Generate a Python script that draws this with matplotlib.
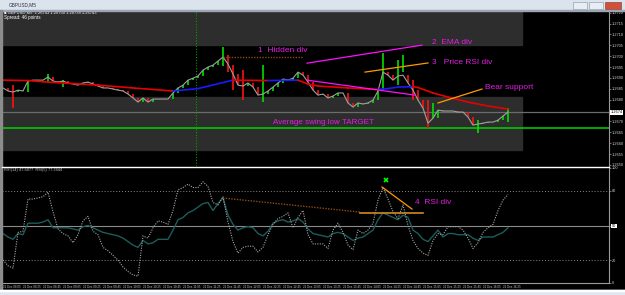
#!/usr/bin/env python3
"""
GBPUSD M5 screenshot remake: price bars with EMA, zones and an RSI panel
"""
import matplotlib
matplotlib.use("Agg")
import matplotlib.pyplot as plt
from matplotlib.patches import Rectangle
from matplotlib.lines import Line2D

# ---- price data (one value per bar) ----
closes = [1.26854, 1.26840, 1.26835, 1.26844, 1.26840, 1.26886, 1.26890, 1.26890, 1.26890, 1.26904,
          1.26886, 1.26881, 1.26886, 1.26877, 1.26872, 1.26867, 1.26877, 1.26881, 1.26872, 1.26863,
          1.26854, 1.26854, 1.26849, 1.26844, 1.26840, 1.26826, 1.26808, 1.26789, 1.26808, 1.26789,
          1.26803, 1.26803, 1.26803, 1.26803, 1.26831, 1.26854, 1.26867, 1.26890, 1.26899, 1.26909,
          1.26936, 1.26950, 1.26959, 1.26978, 1.26996, 1.26964, 1.26918, 1.26867, 1.26863, 1.26877,
          1.26858, 1.26821, 1.26826, 1.26840, 1.26858, 1.26877, 1.26895, 1.26890, 1.26899, 1.26927,
          1.26913, 1.26881, 1.26844, 1.26821, 1.26826, 1.26808, 1.26817, 1.26831, 1.26831, 1.26785,
          1.26766, 1.26785, 1.26780, 1.26785, 1.26798, 1.26840, 1.26927, 1.26913, 1.26890, 1.26909,
          1.26913, 1.26877, 1.26844, 1.26798, 1.26761, 1.26692, 1.26715, 1.26752, 1.26748, 1.26748,
          1.26748, 1.26743, 1.26743, 1.26720, 1.26683, 1.26688, 1.26692, 1.26697, 1.26697, 1.26706,
          1.26725, 1.26743]

# bars with long wicks: bar -> (high, low)
wicks = {2: (1.26867, 1.26762), 5: (1.26890, 1.26835), 9: (1.26918, 1.26881),
         12: (1.26890, 1.26858), 44: (1.27042, 1.26955), 45: (1.27005, 1.26927),
         46: (1.26959, 1.26844), 48: (1.26936, 1.26798), 52: (1.26959, 1.26789),
         76: (1.27015, 1.26844), 79: (1.26982, 1.26867), 80: (1.27005, 1.26927),
         82: (1.26890, 1.26798), 85: (1.26798, 1.26670), 86: (1.26785, 1.26715),
         95: (1.26706, 1.26646), 101: (1.26762, 1.26697)}

# EMA read at a few bars
ema_bars = [0, 5, 9, 19, 26, 34, 39, 46, 53, 59, 61, 63, 69, 75, 77, 79, 82, 83, 86, 89, 93, 97, 101]
ema_vals = [1.26890, 1.26888, 1.26881, 1.26867, 1.26854, 1.26840, 1.26851, 1.26890, 1.26888,
            1.26890, 1.26872, 1.26863, 1.26854, 1.26847, 1.26851, 1.26858, 1.26860, 1.26856,
            1.26831, 1.26812, 1.26789, 1.26771, 1.26757]

# RSI panel
rsi_fast = [20, 15, 13, 44, 45, 73, 73, 74, 75, 79, 62, 47, 43, 41, 35, 42, 54, 58, 45, 42,
            31, 28, 24, 20, 14, 10, 7, 6, 41, 39, 48, 54, 53, 51, 63, 81, 83, 86, 83, 83,
            88, 84, 70, 68, 75, 53, 36, 26, 31, 32, 32, 27, 31, 42, 51, 56, 58, 61, 48, 57,
            63, 42, 34, 34, 34, 30, 46, 52, 44, 33, 29, 46, 43, 46, 52, 72, 83, 73, 62, 56,
            68, 50, 37, 30, 26, 24, 37, 43, 42, 49, 49, 49, 46, 39, 30, 35, 44, 48, 51, 63,
            72, 77]
rsi_slow = [43, 40, 38, 43, 42, 52, 52, 52, 53, 55, 48, 48, 48, 48, 47, 46, 49, 50, 48, 46,
            44, 43, 42, 41, 39, 36, 33, 31, 37, 34, 35, 38, 38, 38, 46, 55, 57, 61, 63, 66,
            69, 70, 63, 69, 74, 59, 51, 46, 48, 49, 48, 43, 41, 45, 52, 54, 55, 53, 54, 56,
            53, 47, 43, 42, 41, 40, 43, 44, 43, 40, 37, 39, 40, 43, 46, 55, 61, 59, 57, 55,
            59, 57, 46, 43, 38, 36, 41, 46, 40, 43, 43, 42, 42, 42, 39, 37, 40, 40, 40, 42,
            44, 48]
rsi_levels = [80, 50, 20]

# zones and levels
supply_zone = (1.27051, 1.27210)
demand_zone = (1.26568, 1.26812)
zone_end_bar = 103.8
current_price = 1.26743
target_price = 1.26670
separator_bar = 38.6

# hand drawn objects: ([bar, bar], [value, value])
hidden_div = ([44, 60], [1.26996, 1.26996])
ema_div_up = ([60.8, 83.8], [1.26968, 1.27051])
ema_div_dn = ([60.8, 82.4], [1.26890, 1.26821])
price_rsi_div = ([72.4, 85.0], [1.26927, 1.26969])
bear_support = ([87.0, 95.8], [1.26785, 1.26849])
rsi_hidden = ([44, 71.4], [73.9, 61.7])
rsi_div = ([75.8, 81.8], [83.5, 64.3])
rsi_flat = ([71.4, 84.0], [60.9, 60.9])
rsi_cross = (76.6, 89.6)

price_ticks = [1.2720, 1.2715, 1.2710, 1.2705, 1.2700, 1.2695, 1.2690, 1.2685,
               1.2680, 1.2670, 1.2665, 1.2660, 1.2655, 1.2650]
rsi_ticks = [100, 80, 50, 20, 0]
time_labels = ["21 Dec 08:05", "21 Dec 08:25", "21 Dec 08:45", "21 Dec 09:05", "21 Dec 09:25",
               "21 Dec 09:45", "21 Dec 10:05", "21 Dec 10:25", "21 Dec 10:45", "21 Dec 11:05",
               "21 Dec 11:25", "21 Dec 11:45", "21 Dec 12:05", "21 Dec 12:25", "21 Dec 12:45",
               "21 Dec 13:05", "21 Dec 13:25", "21 Dec 13:45", "21 Dec 14:05", "21 Dec 14:25",
               "21 Dec 14:45", "21 Dec 15:05", "21 Dec 15:25", "21 Dec 15:45", "21 Dec 16:05",
               "21 Dec 16:25"]

plt.rcParams['font.family'] = ['Liberation Sans', 'DejaVu Sans']

W, H = 625, 295
fig = plt.figure(figsize=(6.25, 2.95), dpi=100, facecolor='black')


def px_axes(x0, y0, x1, y1):
    return fig.add_axes([x0 / W, 1 - y1 / H, (x1 - x0) / W, (y1 - y0) / H])


def px_box(x0, y0, x1, y1, **kw):
    fig.patches.append(Rectangle((x0 / W, 1 - y1 / H), (x1 - x0) / W, (y1 - y0) / H,
                                 transform=fig.transFigure, **kw))


# window frame
px_box(0, 0, W, 10, color='#dbe3ed')
px_box(0, 9.5, W, 10.5, color='#9aa6b4')
px_box(0, 10, 2, 291, color='#8c8c8c')
px_box(0, 290, W, H, color='#dfe8f2')
px_box(0, 290, W, 291, color='#ffffff')
px_box(573, 2, 587, 8.5, facecolor='#e8edf3', edgecolor='#8090a0', lw=0.4)
px_box(589, 2, 603, 8.5, facecolor='#e8edf3', edgecolor='#8090a0', lw=0.4)
px_box(605, 2, 621, 8.5, facecolor='#d0503c', edgecolor='#803020', lw=0.4)
fig.text(9 / W, 1 - 5 / H, "GBPUSD,M5", fontsize=3.4, color='#303040', va='center')

xmin, xmax = -0.2, 121.2
x = list(range(len(closes)))

# ---------------- main chart ----------------
ax = px_axes(2, 11, 609, 166)
ax.set_facecolor('black')
ax.set_xlim(xmin, xmax)
ax.set_ylim(1.26495, 1.27208)

ax.add_patch(Rectangle((xmin, supply_zone[0]), zone_end_bar - xmin,
                       supply_zone[1] - supply_zone[0], color='#2d2d2d', zorder=0))
ax.add_patch(Rectangle((xmin, demand_zone[0]), zone_end_bar - xmin,
                       demand_zone[1] - demand_zone[0], color='#2d2d2d', zorder=0))
ax.axhline(current_price, color='#6c6c6c', lw=0.9, zorder=1)
ax.axhline(target_price, color='#00c800', lw=1.2, zorder=1)
ax.axvline(separator_bar, color='#00a000', ls=(0, (1, 1.5)), lw=0.8, zorder=1)

for i, c in enumerate(closes):
    o = closes[i - 1] if i > 0 else c
    hi, lo = wicks.get(i, (max(o, c), min(o, c)))
    col = '#00e000' if c >= o else '#ff1010'
    ax.vlines(i, lo, hi, colors=col, lw=1.2, zorder=2)
ax.plot(x, closes, color='#a0a0a0', lw=0.8, zorder=3)

for k in range(len(ema_bars) - 1):
    col = '#1a1aff' if ema_vals[k + 1] > ema_vals[k] else '#e80000'
    ax.plot(ema_bars[k:k + 2], ema_vals[k:k + 2], color=col, lw=1.2, zorder=3,
            solid_capstyle='round')

ax.plot(*hidden_div, color='#8b4a10', ls=(0, (1, 1)), lw=1.0, zorder=4)
ax.plot(*ema_div_up, color='#ff10ff', lw=0.9, zorder=4)
ax.plot(*ema_div_dn, color='#ff10ff', lw=0.9, zorder=4)
ax.plot(*price_rsi_div, color='#ff9a00', lw=0.9, zorder=4)
ax.plot(*bear_support, color='#ff9a00', lw=0.9, zorder=4)

mag = '#e21ee2'
ax.text(51, 1.27024, "1  Hidden div", color=mag, fontsize=6, va='center')
ax.text(85.8, 1.27061, "2  EMA div", color=mag, fontsize=6, va='center')
ax.text(85.8, 1.26969, "3   Price RSI div", color=mag, fontsize=6, va='center')
ax.text(96.4, 1.26854, "Bear support", color=mag, fontsize=6, va='center')
ax.text(54, 1.26694, "Average swing low TARGET", color=mag, fontsize=5.8, va='center')

ax.text(0.003, 0.988, "\u25a0 GBPUSD,M5  1.26743 1.26750 1.26738 1.26743", transform=ax.transAxes,
        fontsize=3.0, color='white', va='center')
ax.text(0.003, 0.958, "Spread: 46 points", transform=ax.transAxes,
        fontsize=3.3, color='white', va='center')

ax.set_xticks([])
ax.yaxis.tick_right()
ax.set_yticks(price_ticks)
ax.set_yticklabels(["%.4f" % p for p in price_ticks])
ax.tick_params(axis='y', colors='#9a9a9a', labelcolor='#d0d0d0', labelsize=2.8,
               length=1.5, width=0.5, pad=0.6)
ax.text(1.002, current_price, "%.4f" % current_price, transform=ax.get_yaxis_transform(),
        fontsize=2.8, color='black', va='center', ha='left',
        bbox=dict(facecolor='white', edgecolor='none', pad=0.3))
for s in ['top', 'left', 'bottom']:
    ax.spines[s].set_visible(False)
ax.spines['right'].set_color('#9a9a9a')
ax.spines['right'].set_linewidth(0.8)

fig.add_artist(Line2D([2 / W, 609 / W], [1 - 167 / H] * 2, color='white', lw=1.0))

# ---------------- RSI panel ----------------
ax2 = px_axes(2, 168, 609, 283)
ax2.set_facecolor('black')
ax2.set_xlim(xmin, xmax)
ax2.set_ylim(0, 100)
for lvl in rsi_levels:
    if lvl == 50:
        ax2.axhline(lvl, color='#8a8a8a', lw=0.8)
    else:
        ax2.axhline(lvl, color='#8a8a8a', ls=(0, (1, 2)), lw=0.7)

ax2.plot(x, rsi_slow, color='#1c5c5c', lw=1.0)
ax2.plot(x, rsi_fast, color='#a8a8a8', ls=(0, (1, 1.2)), lw=0.8)

ax2.plot(*rsi_hidden, color='#8b4a10', ls=(0, (1, 1)), lw=1.0)
ax2.plot(*rsi_div, color='#ff9a00', lw=0.9)
ax2.plot(*rsi_flat, color='#d08a20', lw=1.2)
ax2.plot(*rsi_cross, marker='x', color='#00ff00', ms=3, mew=1.2)
ax2.text(82.4, 69.6, "4  RSI div", color=mag, fontsize=6, va='center')

ax2.text(0.003, 0.983, "RSI(14) 47.6877  RSI(5) 77.3444", transform=ax2.transAxes,
         fontsize=2.8, color='#c0c0c0', va='center')

ax2.yaxis.tick_right()
ax2.set_yticks(rsi_ticks)
ax2.set_yticklabels([str(t) for t in rsi_ticks])
ax2.tick_params(axis='y', colors='#9a9a9a', labelcolor='#d0d0d0', labelsize=2.8,
                length=1.5, width=0.5, pad=0.6)
for lab in ax2.get_yticklabels():
    if lab.get_text() == "50":
        lab.set_color('black')
        lab.set_bbox(dict(facecolor='white', edgecolor='none', pad=0.3))

ax2.set_xticks(list(range(0, 4 * len(time_labels), 4)))
ax2.set_xticklabels(time_labels)
for lab in ax2.get_xticklabels():
    lab.set_ha('left')
ax2.tick_params(axis='x', length=0, pad=1.5, labelsize=2.2, labelcolor='#c8c8c8')
for s in ['top', 'left']:
    ax2.spines[s].set_visible(False)
for s in ['right', 'bottom']:
    ax2.spines[s].set_color('#9a9a9a')
    ax2.spines[s].set_linewidth(0.8)

fig.savefig('out.png', dpi=100, facecolor=fig.get_facecolor())
